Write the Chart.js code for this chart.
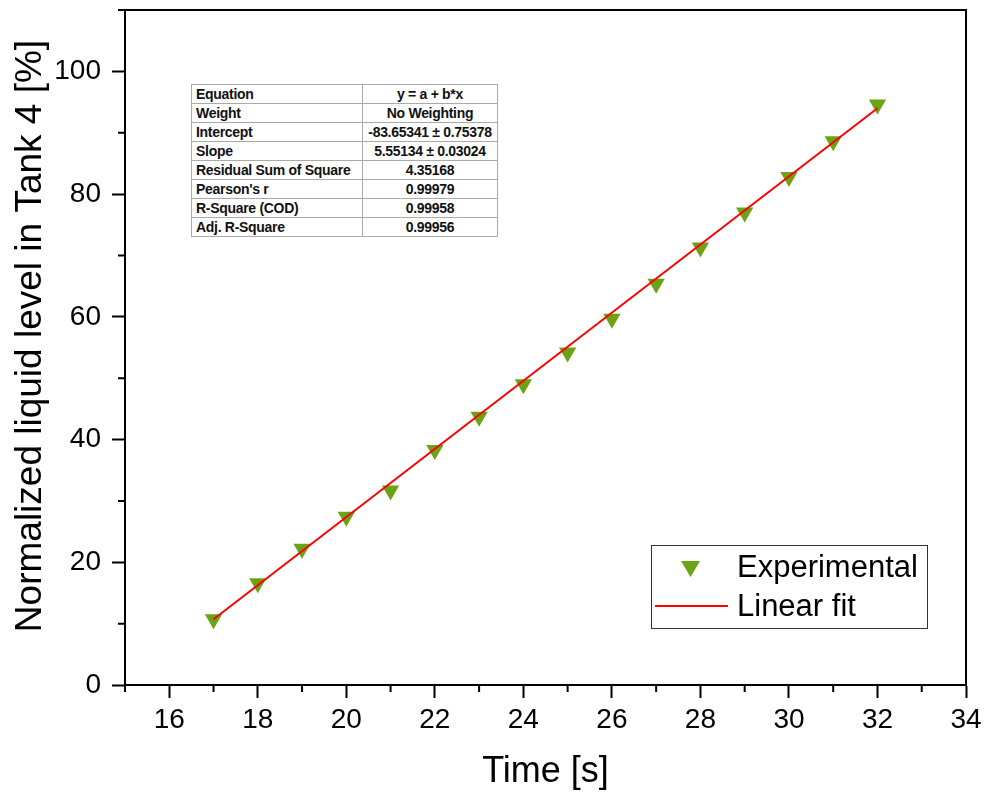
<!DOCTYPE html>
<html>
<head>
<meta charset="utf-8">
<script src="https://cdn.jsdelivr.net/npm/chart.js@4.4.0/dist/chart.umd.min.js"></script>
<style>
  html, body { margin: 0; padding: 0; background: #fff; }
  #wrap { position: relative; width: 984px; height: 794px; }
  #fitTable {
    position: absolute; left: 191px; top: 84px;
    border-collapse: collapse; border: 1px solid #444;
    font-family: "Liberation Sans", Arial, sans-serif; font-size: 14px; font-weight: bold;
    color: #111; background: #fff;
  }
  #fitTable td { border: 1px solid #aaa; height: 18px; padding: 0 4px; line-height: 18px; white-space: nowrap; letter-spacing: -0.3px; }
  #fitTable td:first-child { width: 162px; text-align: left; }
  #fitTable td:last-child { width: 126px; text-align: center; }
</style>
</head>
<body>
<div id="wrap">
  <canvas id="chart" width="984" height="794"></canvas>
  <table id="fitTable"></table>
</div>
<script>
// measured points
const timeValues = [17, 18, 19, 20, 21, 22, 23, 24, 25, 26, 27, 28, 29, 30, 31, 32];
const levelValues = [10.7, 16.6, 22.2, 27.4, 31.7, 38.3, 43.7, 49.0, 54.2, 59.7, 65.4, 71.3, 77.0, 82.8, 88.6, 94.6];

// linear fit end points
const fitTimes = [17, 32];
const fitLevels = [10.72, 93.99];

// axes
const xTicks = [16, 18, 20, 22, 24, 26, 28, 30, 32, 34];
const xMinorTicks = [15, 17, 19, 21, 23, 25, 27, 29, 31, 33];
const yTicks = [0, 20, 40, 60, 80, 100];
const yMinorTicks = [10, 30, 50, 70, 90, 110];

// fit statistics table
const tableLabels = ['Equation', 'Weight', 'Intercept', 'Slope', 'Residual Sum of Square', "Pearson's r", 'R-Square (COD)', 'Adj. R-Square'];
const tableValues = ['y = a + b*x', 'No Weighting', '-83.65341 \u00b1 0.75378', '5.55134 \u00b1 0.03024', '4.35168', '0.99979', '0.99958', '0.99956'];

const legendLabels = ['Experimental', 'Linear fit'];
const yTitle = 'Normalized liquid level in Tank 4 [%]';

const green = '#6BA315';
const red = '#FF0000';
const font = "'Liberation Sans', Arial, sans-serif";

const table = document.getElementById('fitTable');
tableLabels.forEach((label, i) => {
  const tr = document.createElement('tr');
  const a = document.createElement('td');
  a.textContent = label;
  const b = document.createElement('td');
  b.textContent = tableValues[i];
  tr.appendChild(a);
  tr.appendChild(b);
  table.appendChild(tr);
});

// frame, minor ticks, y title and legend
const extras = {
  id: 'extras',
  afterDraw(chart) {
    const ctx = chart.ctx;
    const area = chart.chartArea;
    const xs = chart.scales.x;
    const ys = chart.scales.y;
    ctx.save();
    ctx.strokeStyle = '#000';
    ctx.lineWidth = 2;
    ctx.beginPath();
    ctx.moveTo(area.left, area.top);
    ctx.lineTo(area.right, area.top);
    ctx.lineTo(area.right, area.bottom);
    ctx.stroke();

    ctx.beginPath();
    xMinorTicks.forEach(v => {
      const px = xs.getPixelForValue(v);
      ctx.moveTo(px, area.bottom);
      ctx.lineTo(px, area.bottom + 7);
    });
    yMinorTicks.forEach(v => {
      const py = ys.getPixelForValue(v);
      ctx.moveTo(area.left, py);
      ctx.lineTo(area.left - 7, py);
    });
    ctx.stroke();

    // y axis title
    ctx.save();
    ctx.translate(31, 336);
    ctx.rotate(-Math.PI / 2);
    ctx.fillStyle = '#000';
    ctx.font = '37px ' + font;
    ctx.textAlign = 'center';
    ctx.textBaseline = 'middle';
    ctx.fillText(yTitle, 0, 0);
    ctx.restore();

    // legend
    const lx = 651, ly = 545, lw = 276, lh = 83;
    ctx.lineWidth = 1;
    ctx.strokeStyle = '#333';
    ctx.strokeRect(lx + 0.5, ly + 0.5, lw, lh);
    ctx.fillStyle = green;
    ctx.beginPath();
    ctx.moveTo(681, 561);
    ctx.lineTo(700, 561);
    ctx.lineTo(690.5, 577);
    ctx.closePath();
    ctx.fill();
    ctx.strokeStyle = red;
    ctx.lineWidth = 2;
    ctx.beginPath();
    ctx.moveTo(655, 606);
    ctx.lineTo(728, 606);
    ctx.stroke();
    ctx.fillStyle = '#000';
    ctx.font = '31px ' + font;
    ctx.textAlign = 'left';
    ctx.textBaseline = 'middle';
    ctx.fillText(legendLabels[0], 737, 568);
    ctx.fillText(legendLabels[1], 737, 607);
    ctx.restore();
  }
};

new Chart(document.getElementById('chart'), {
  type: 'scatter',
  data: {
    datasets: [
      {
        label: legendLabels[0],
        data: timeValues.map((t, i) => ({ x: t, y: levelValues[i] })),
        pointStyle: 'triangle',
        rotation: 180,
        radius: 10,
        backgroundColor: green,
        borderColor: green,
        borderWidth: 0,
        order: 2,
      },
      {
        label: legendLabels[1],
        type: 'line',
        data: fitTimes.map((t, i) => ({ x: t, y: fitLevels[i] })),
        borderColor: red,
        borderWidth: 2,
        pointRadius: 0,
        fill: false,
        order: 1,
      },
    ],
  },
  options: {
    responsive: false,
    animation: false,
    layout: { padding: { left: 0, right: 18, top: 7, bottom: 0 } },
    plugins: {
      legend: { display: false },
      tooltip: { enabled: false },
    },
    scales: {
      x: {
        type: 'linear',
        min: 15,
        max: 34,
        afterBuildTicks: (scale) => { scale.ticks = xTicks.map(v => ({ value: v })); },
        afterFit: (scale) => {
          scale.height = 109;
          scale.paddingLeft = 0;
          scale.paddingRight = 0;
        },
        border: { display: true, color: '#000', width: 2 },
        grid: { drawOnChartArea: false, tickLength: 13, tickWidth: 2, tickColor: '#000' },
        ticks: { color: '#000', font: { family: font, size: 28 }, padding: 5, maxRotation: 0 },
        title: { display: true, text: 'Time [s]', color: '#000', font: { family: font, size: 36 }, padding: { top: 0, bottom: 0 } },
      },
      y: {
        min: 0,
        max: 110,
        afterBuildTicks: (scale) => { scale.ticks = yTicks.map(v => ({ value: v })); },
        afterFit: (scale) => {
          scale.width = 125;
          scale.paddingTop = 0;
          scale.paddingBottom = 0;
        },
        border: { display: true, color: '#000', width: 2 },
        grid: { drawOnChartArea: false, tickLength: 13, tickWidth: 2, tickColor: '#000' },
        ticks: { color: '#000', font: { family: font, size: 28 }, padding: 11 },
        title: { display: false },
      },
    },
  },
  plugins: [extras],
});
</script>
</body>
</html>
